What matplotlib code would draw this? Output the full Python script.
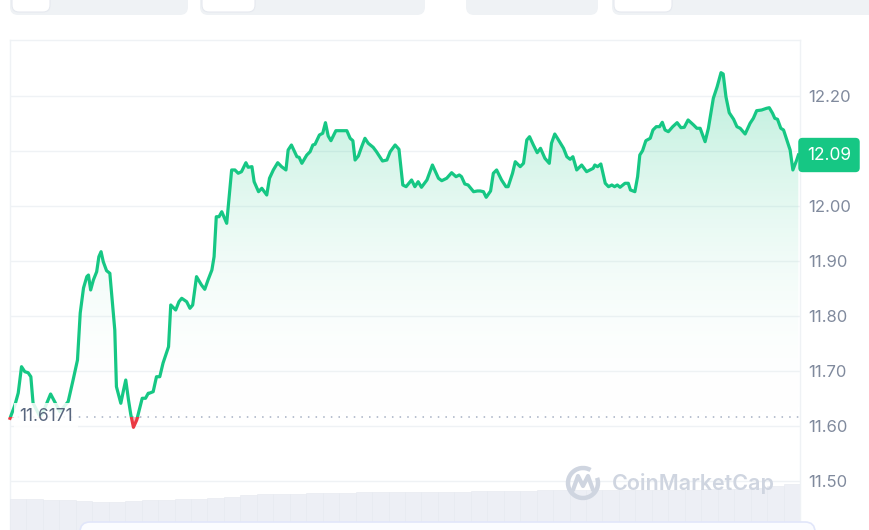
import numpy as np
import matplotlib
matplotlib.use("Agg")
import matplotlib.pyplot as plt
from matplotlib.patches import Rectangle, FancyBboxPatch, Arc
from matplotlib.colors import LinearSegmentedColormap

# 24h price, minutes since the open
minutes = [
    0, 9, 15, 21, 27, 33, 38, 42, 55, 62, 74, 91, 106, 115, 123, 128, 134, 140, 143, 147,
    152, 158, 162, 166, 170, 176, 182, 191, 194, 202, 207, 211, 216, 220, 225, 231, 237, 241, 247, 252,
    255, 261, 267, 273, 279, 289, 293, 302, 308, 313, 322, 328, 333, 340, 349, 355, 361, 368, 372, 376,
    381, 386, 395, 400, 404, 410, 416, 422, 430, 434, 441, 445, 453, 459, 468, 473, 480, 488, 495, 503,
    507, 513, 523, 527, 532, 541, 547, 552, 556, 564, 570, 575, 580, 585, 594, 602, 614, 620, 625, 629,
    635, 641, 647, 653, 662, 668, 679, 687, 693, 702, 709, 716, 722, 732, 738, 744, 750, 760, 770, 781,
    787, 796, 805, 813, 819, 823, 829, 835, 845, 852, 857, 863, 868, 876, 881, 887, 896, 904, 908, 916,
    921, 930, 936, 942, 947, 954, 961, 967, 975, 983, 987, 993, 999, 1009, 1015, 1021, 1026, 1033, 1042, 1051,
    1057, 1063, 1066, 1071, 1077, 1085, 1091, 1097, 1102, 1107, 1112, 1121, 1127, 1131, 1139, 1144, 1148, 1153, 1159, 1167,
    1172, 1178, 1184, 1189, 1194, 1200, 1208, 1216, 1223, 1229, 1236, 1246, 1252, 1258, 1267, 1273, 1282, 1289, 1296, 1300,
    1305, 1311, 1319, 1325, 1331, 1340, 1349, 1355, 1361, 1370, 1379, 1384, 1390, 1394, 1399, 1405, 1410, 1416, 1422, 1427,
    1434, 1437,
]
prices = [
    11.6140, 11.6382, 11.6600, 11.7078, 11.6987, 11.6969, 11.6896, 11.6418, 11.6164, 11.6291,
    11.6582, 11.6260, 11.6442, 11.6836, 11.7200, 11.8055, 11.8509, 11.8715, 11.8745, 11.8473,
    11.8655, 11.8805, 11.9078, 11.9169, 11.8987, 11.8824, 11.8776, 11.7745, 11.6715, 11.6413,
    11.6655, 11.6836, 11.6473, 11.6218, 11.5976, 11.6109, 11.6351, 11.6504, 11.6504, 11.6595,
    11.6600, 11.6624, 11.6896, 11.6896, 11.7145, 11.7442, 11.8200, 11.8109, 11.8260, 11.8322,
    11.8260, 11.8140, 11.8200, 11.8715, 11.8564, 11.8485, 11.8655, 11.8836, 11.9078, 11.9805,
    11.9805, 11.9896, 11.9685, 12.0231, 12.0655, 12.0655, 12.0595, 12.0624, 12.0787, 12.0704,
    12.0715, 12.0442, 12.0260, 12.0322, 12.0200, 12.0504, 12.0655, 12.0787, 12.0715, 12.0655,
    12.1018, 12.1109, 12.0896, 12.0885, 12.0776, 12.0927, 12.0987, 12.1109, 12.1122, 12.1291,
    12.1322, 12.1515, 12.1273, 12.1187, 12.1369, 12.1369, 12.1369, 12.1231, 12.1187, 12.0836,
    12.0909, 12.1078, 12.1231, 12.1140, 12.1067, 12.0987, 12.0818, 12.0836, 12.0987, 12.1109,
    12.1031, 12.0382, 12.0351, 12.0473, 12.0351, 12.0442, 12.0340, 12.0473, 12.0745, 12.0504,
    12.0460, 12.0504, 12.0605, 12.0533, 12.0564, 12.0533, 12.0400, 12.0382, 12.0260, 12.0273,
    12.0273, 12.0260, 12.0158, 12.0273, 12.0595, 12.0655, 12.0473, 12.0351, 12.0351, 12.0595,
    12.0805, 12.0715, 12.0776, 12.1200, 12.1260, 12.1109, 12.0969, 12.1049, 12.0867, 12.0776,
    12.1140, 12.1309, 12.1213, 12.1049, 12.0896, 12.0849, 12.0896, 12.0655, 12.0745, 12.0624,
    12.0655, 12.0685, 12.0745, 12.0715, 12.0764, 12.0413, 12.0351, 12.0382, 12.0351, 12.0382,
    12.0340, 12.0413, 12.0413, 12.0291, 12.0260, 12.0533, 12.0927, 12.1005, 12.1187, 12.1231,
    12.1382, 12.1442, 12.1442, 12.1522, 12.1382, 12.1351, 12.1442, 12.1515, 12.1424, 12.1431,
    12.1564, 12.1473, 12.1413, 12.1413, 12.1169, 12.1413, 12.1958, 12.2169, 12.2424, 12.2400,
    12.1987, 12.1696, 12.1576, 12.1442, 12.1413, 12.1309, 12.1504, 12.1595, 12.1733, 12.1745,
    12.1776, 12.1787, 12.1685, 12.1595, 12.1576, 12.1413, 12.1382, 12.1200, 12.1018, 12.0655,
    12.0836, 12.0927,
]
open_price = 11.6171

# volume, one bar per 30 minutes (relative units)
volume = [
    31, 31, 30, 30, 29, 28, 28, 29, 30, 30, 31, 31, 32, 33, 35, 36,
    36, 36, 37, 37, 37, 38, 38, 38, 38, 38, 38, 38, 39, 39, 39, 39,
    40, 40, 40, 40, 40, 40, 40, 40, 40, 40, 41, 41, 41, 42, 44, 46,
]

ytick_values = [11.5, 11.6, 11.7, 11.8, 11.9, 12.0, 12.1, 12.2]
ytick_labels = ["11.50", "11.60", "11.70", "11.80", "11.90", "12.00", "", "12.20"]

GREEN = "#16c784"
RED = "#ea3943"
GRID = "#eff2f5"
TICK = "#808a9d"

plt.rcParams["font.family"] = ["Inter", "DejaVu Sans"]

W, H = 870, 530
fig = plt.figure(figsize=(W / 100, H / 100), dpi=100)
fig.patch.set_facecolor("white")

# main price axes
ax = fig.add_axes([10 / W, 0, 790 / W, 490 / H])
ax.set_facecolor("none")
t = np.array(minutes, dtype=float)
p = np.array(prices)

ax.grid(axis="y", color=GRID, linewidth=1)
ax.set_axisbelow(True)

# green gradient fill above the open price
upper = ax.fill_between(t, open_price, np.maximum(p, open_price), color="none", linewidth=0)
cmap = LinearSegmentedColormap.from_list(
    "grad", [(1, 1, 1, 0.0), (22 / 255, 199 / 255, 132 / 255, 0.30)])
grad = np.linspace(0, 1, 256).reshape(-1, 1)
img = ax.imshow(grad, extent=[t[0], t[-1], open_price, p.max()], origin="lower",
                aspect="auto", cmap=cmap, zorder=1, interpolation="bilinear")
img.set_clip_path(upper.get_paths()[0], transform=ax.transData)

# red fill below the open price
ax.fill_between(t, open_price, np.minimum(p, open_price), color=RED, alpha=0.35,
                linewidth=0, zorder=1)

# price line, green above / red below the open
g_line, = ax.plot(t, p, color=GREEN, linewidth=2.3, zorder=3, solid_joinstyle="round")
r_line, = ax.plot(t, p, color=RED, linewidth=2.3, zorder=3, solid_joinstyle="round")
g_clip = Rectangle((-100, open_price), 2000, 10, transform=ax.transData)
r_clip = Rectangle((-100, open_price - 10), 2000, 10, transform=ax.transData)
g_line.set_clip_path(g_clip)
r_line.set_clip_path(r_clip)

# open price reference
ax.axhline(open_price, color="#a6b0c3", linewidth=1.1, linestyle=(0, (1, 4)), zorder=2)
ax.text(0.012, open_price, f"{open_price:.4f}", transform=ax.get_yaxis_transform(),
        ha="left", va="center", fontsize=12.5, color="#58667e", zorder=5,
        bbox=dict(boxstyle="square,pad=0.3", facecolor="white", alpha=0.85, edgecolor="none"))

ax.set_xlim(0, 1440)
ax.set_ylim(11.4109, 12.3018)
ax.set_xticks([])
ax.set_yticks(ytick_values)
ax.set_yticklabels(ytick_labels)
ax.yaxis.tick_right()
ax.tick_params(axis="y", length=0, pad=6, labelsize=12, labelcolor=TICK)
for side in ["left", "top", "right"]:
    ax.spines[side].set_color(GRID)
    ax.spines[side].set_linewidth(1)
ax.spines["bottom"].set_visible(False)

# current price tag
ax.text(1 + 29 / 790, p[-1], f"{p[-1]:.2f}", transform=ax.get_yaxis_transform(),
        ha="center", va="center", fontsize=12.5, color="white", zorder=6, clip_on=False,
        bbox=dict(boxstyle="round,pad=0.5,rounding_size=0.25", facecolor=GREEN,
                  edgecolor="none"))

# volume bars along the bottom
vax = fig.add_axes([10 / W, 0, 790 / W, 50 / H])
vax.set_facecolor("none")
vx = np.arange(len(volume))
vax.bar(vx, volume, width=1.0, color="#edeff5", edgecolor="#e6e9f0", linewidth=0.4)
vax.set_xlim(-0.5, len(volume) - 0.5)
vax.set_ylim(0, 50)
vax.axis("off")

# page decoration in pixel space
deco = fig.add_axes([0, 0, 1, 1])
deco.set_xlim(0, W)
deco.set_ylim(H, 0)
deco.axis("off")
deco.patch.set_alpha(0)

for x0, x1 in [(10, 188), (200, 425), (466, 598), (612, 880)]:
    deco.add_patch(FancyBboxPatch((x0, -20), x1 - x0, 35,
                                  boxstyle="round,pad=0,rounding_size=8",
                                  facecolor="#eff2f5", edgecolor="none"))
for x0, x1 in [(12, 50), (202, 255), (614, 672)]:
    deco.add_patch(FancyBboxPatch((x0, -20), x1 - x0, 32,
                                  boxstyle="round,pad=0,rounding_size=7",
                                  facecolor="white", edgecolor="#e6e9ef", linewidth=0.8))

deco.add_patch(FancyBboxPatch((80, 522), 735, 30, boxstyle="round,pad=0,rounding_size=10",
                              facecolor="#fbfcff", edgecolor="#e1e6fa", linewidth=1.2))

# watermark
wm = "#cfd5e0"
deco.add_patch(Arc((583, 483), 30, 30, theta1=-20, theta2=300, color=wm, linewidth=3.2))
deco.plot([573, 578, 583, 588, 593], [490, 476, 486, 476, 490], color=wm,
          linewidth=3.0, solid_joinstyle="round", solid_capstyle="round")
deco.text(612, 484, "CoinMarketCap", fontsize=15.5, fontweight="semibold", color=wm,
          ha="left", va="center")

fig.savefig("out.png", dpi=100)
